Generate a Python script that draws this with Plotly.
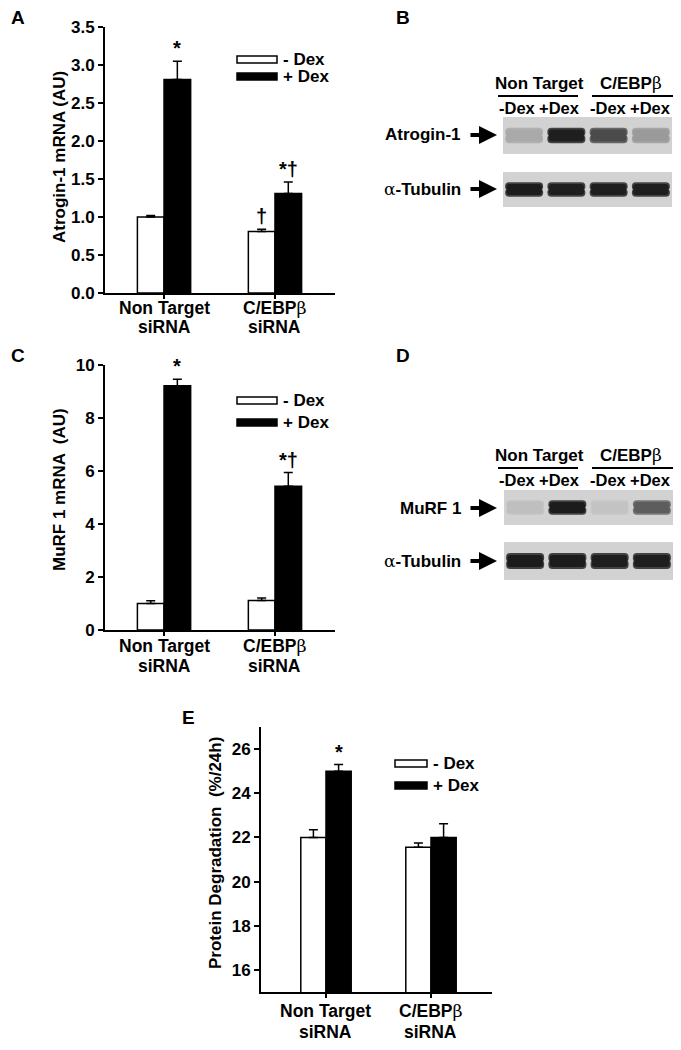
import plotly.graph_objects as go

OFF = 8               # page offset of the plot inside the browser window
W, H = 681 - OFF, 1050 - OFF
def px(x): return (x - OFF) / W
def py(y): return 1 - (y - OFF) / H

BETA = "<span style='font-family:DejaVu Serif;font-weight:normal'>β</span>"
ALPHA = "<span style='font-family:DejaVu Serif;font-weight:normal'>α</span>"

# ---------------- data ----------------
group_line1 = ["Non Target", "C/EBP" + BETA]
group_line2 = ["siRNA", "siRNA"]
series = ["- Dex", "+ Dex"]

atrogin_minus = [1.00, 0.81]
atrogin_minus_err = [0.02, 0.03]
atrogin_plus = [2.81, 1.31]
atrogin_plus_err = [0.24, 0.15]

murf_minus = [1.00, 1.11]
murf_minus_err = [0.10, 0.10]
murf_plus = [9.22, 5.42]
murf_plus_err = [0.24, 0.52]

deg_minus = [22.0, 21.55]
deg_minus_err = [0.35, 0.20]
deg_plus = [25.0, 22.0]
deg_plus_err = [0.30, 0.62]

# significance marks: (group, series index, text)
marks_A = [(0, 1, "*"), (1, 0, "†"), (1, 1, "*†")]
marks_C = [(0, 1, "*"), (1, 1, "*†")]
marks_E = [(0, 1, "*")]

# western blot band intensities (0 = none, 1 = saturated)
lanes = ["-Dex", "+Dex", "-Dex", "+Dex"]
blot_groups = ["Non Target", "C/EBP" + BETA]
atrogin_band = [0.22, 0.95, 0.72, 0.30]
tubulin_B_band = [0.97, 0.95, 0.95, 0.95]
murf_band = [0.10, 0.97, 0.08, 0.62]
tubulin_D_band = [0.97, 0.97, 0.95, 0.95]

FONT = "Liberation Sans, Arial, sans-serif"
BW = 0.24

fig = go.Figure()

def add_bars(xa, ya, minus, minus_err, plus, plus_err):
    fig.add_trace(go.Bar(x=[0, 1], y=minus, width=BW, offset=-BW, name=series[0],
                         marker=dict(color="white", line=dict(color="black", width=1.5)),
                         error_y=dict(type="data", array=minus_err, arrayminus=[0, 0], symmetric=False,
                                      color="black", thickness=1.5, width=4.5),
                         xaxis=xa, yaxis=ya, showlegend=False))
    fig.add_trace(go.Bar(x=[0, 1], y=plus, width=BW, offset=0, name=series[1],
                         marker=dict(color="black", line=dict(color="black", width=1.5)),
                         error_y=dict(type="data", array=plus_err, arrayminus=[0, 0], symmetric=False,
                                      color="black", thickness=1.5, width=4.5),
                         xaxis=xa, yaxis=ya, showlegend=False))

add_bars("x", "y", atrogin_minus, atrogin_minus_err, atrogin_plus, atrogin_plus_err)
add_bars("x2", "y2", murf_minus, murf_minus_err, murf_plus, murf_plus_err)
add_bars("x3", "y3", deg_minus, deg_minus_err, deg_plus, deg_plus_err)

def gray(v):
    g = int(round(210 - v * (210 - 22)))
    return f"rgb({g},{g},{g})"

def add_bands(xa, ya, vals):
    cols = [gray(v) for v in vals]
    halo = [gray(v * 0.8) for v in vals]
    for hgt, wid, cc, rad in [(0.21, 0.9, halo, 7), (0.16, 0.84, cols, 5)]:
        for sgn in (1, -1):
            fig.add_trace(go.Bar(x=[1, 2, 3, 4], y=[(hgt + 0.03) * sgn] * 4, base=[0.5 - 0.03 * sgn] * 4,
                                 width=wid,
                                 marker=dict(color=cc, line=dict(width=0), cornerradius=rad),
                                 xaxis=xa, yaxis=ya, showlegend=False, hoverinfo="skip"))

add_bands("x4", "y4", atrogin_band)
add_bands("x5", "y5", tubulin_B_band)
add_bands("x6", "y6", murf_band)
add_bands("x7", "y7", tubulin_D_band)

axis_common = dict(showline=True, linecolor="black", linewidth=1.8, ticks="outside", automargin=False,
                   ticklen=5, tickwidth=1.5, tickcolor="black", showgrid=False, zeroline=False,
                   tickfont=dict(family=FONT, size=17, color="black", weight="bold"))

def xcat(domain, rng):
    return dict(axis_common, domain=domain, range=rng, tickvals=[0, 1], showticklabels=False, ticklen=4)

fig.update_layout(
    width=W, height=H, margin=dict(l=0, r=0, t=0, b=0, pad=0, autoexpand=False),
    paper_bgcolor="white", plot_bgcolor="rgba(0,0,0,0)",
    barmode="overlay", showlegend=False,
    font=dict(family=FONT, size=17, color="black", weight="bold"),
    xaxis=xcat([px(105), px(335)], [-0.532, 1.541]),
    yaxis=dict(axis_common, domain=[py(293), py(27)], range=[0, 3.5], tickvals=[0, 0.5, 1, 1.5, 2, 2.5, 3, 3.5],
               tickformat=".1f"),
    xaxis2=xcat([px(105), px(335)], [-0.532, 1.541]),
    yaxis2=dict(axis_common, domain=[py(630), py(365)], range=[0, 10], tickvals=[0, 2, 4, 6, 8, 10]),
    xaxis3=xcat([px(261), px(492)], [-0.619, 1.581]),
    yaxis3=dict(axis_common, domain=[py(992), py(727)], range=[15, 27], tickvals=[16, 18, 20, 22, 24, 26]),
)
blot_ax = dict(showline=False, showgrid=False, zeroline=False, showticklabels=False, ticks="", automargin=False)
for i, (xd, yd) in zip(range(4, 8), [([503, 672], [117, 154]), ([503, 672], [172, 207]),
                                      ([504, 673], [490, 525]), ([504, 673], [542, 580])]):
    fig.layout[f"xaxis{i}"] = dict(blot_ax, domain=[px(xd[0]), px(xd[1])], range=[0.5, 4.5], anchor=f"y{i}")
    fig.layout[f"yaxis{i}"] = dict(blot_ax, domain=[py(yd[1]), py(yd[0])], range=[0, 1], anchor=f"x{i}")
for i in (2, 3):
    fig.layout[f"xaxis{i}"].anchor = f"y{i}"
    fig.layout[f"yaxis{i}"].anchor = f"x{i}"

shapes = []
ann = []

def note(text, x, y, size=17, xanchor="center", **kw):
    d = dict(text=text, x=x, y=y, xref="paper", yref="paper", showarrow=False,
             xanchor=xanchor, yanchor="middle", font=dict(size=size))
    d.update(kw)
    ann.append(d)

# category labels under the bar charts
for xa, y1, y2 in [("x", 308, 327), ("x2", 646, 666), ("x3", 1011, 1032)]:
    for g in range(2):
        note(group_line1[g], g, py(y1), size=17.5, xref=xa)
        note(group_line2[g], g, py(y2), size=17.5, xref=xa)

# blot backgrounds
for i in range(4, 8):
    shapes.append(dict(type="rect", xref=f"x{i} domain", yref=f"y{i} domain", x0=0, x1=1, y0=0, y1=1,
                       fillcolor="#d2d2d2", line=dict(width=0), layer="below"))

# y-axis titles
for txt, x, y in [("Atrogin-1 mRNA (AU)", 60, 157), ("MuRF 1 mRNA  (AU)", 60, 490),
                  ("Protein Degradation  (%/24h)", 215, 853)]:
    note(txt, px(x), py(y), textangle=-90)

# panel letters
for txt, x, y in [("A", 18, 17), ("B", 403, 17), ("C", 18, 355), ("D", 403, 355), ("E", 188, 717)]:
    note(txt, px(x), py(y), size=19)

# legends
for ytop_w, ytop_b, x0, x1 in [(56, 73, 237, 277), (397, 419, 237, 277), (760, 782, 395, 427)]:
    for j, (yt, fill) in enumerate([(ytop_w, "white"), (ytop_b, "black")]):
        shapes.append(dict(type="rect", xref="paper", yref="paper", x0=px(x0), x1=px(x1),
                           y0=py(yt + 7), y1=py(yt), fillcolor=fill, line=dict(color="black", width=1.5)))
        note(series[j], px(x1 + 4), py(yt + 3.5), xanchor="left")

# significance marks
def add_marks(marks, xa, ya, minus, minus_err, plus, plus_err):
    for g, s, txt in marks:
        top = (minus[g] + minus_err[g]) if s == 0 else (plus[g] + plus_err[g])
        xc = g - BW / 2 if s == 0 else g + BW / 2
        ann.append(dict(text=txt, x=xc, y=top, xref=xa, yref=ya, xanchor="center", yanchor="bottom",
                        showarrow=False, yshift=0, font=dict(size=20)))

add_marks(marks_A, "x", "y", atrogin_minus, atrogin_minus_err, atrogin_plus, atrogin_plus_err)
add_marks(marks_C, "x2", "y2", murf_minus, murf_minus_err, murf_plus, murf_plus_err)
add_marks(marks_E, "x3", "y3", deg_minus, deg_minus_err, deg_plus, deg_plus_err)

# blot headers
lane_x = [517, 559, 608, 650]
for dy, strips in [(0, [("Atrogin-1", 135), (ALPHA + "-Tubulin", 189)]),
                   (372, [("MuRF 1", 508), (ALPHA + "-Tubulin", 561)])]:
    for k, name in enumerate(blot_groups):
        note(name, px([539, 631][k]), py(83 + dy))
        x0, x1 = [(498, 578), (592, 675)][k]
        shapes.append(dict(type="line", xref="paper", yref="paper", x0=px(x0), x1=px(x1),
                           y0=py(96 + dy), y1=py(96 + dy), line=dict(color="black", width=1.8)))
    for k, ln in enumerate(lanes):
        note(ln, px(lane_x[k]), py(108 + dy), size=16.5)
    for name, yc in strips:
        note(name, px(463), py(yc), xanchor="right")
        ann.append(dict(text="", x=px(497), y=py(yc), ax=-28, ay=0, xref="paper", yref="paper",
                        axref="pixel", ayref="pixel", showarrow=True, arrowhead=2, arrowsize=0.9,
                        arrowwidth=4, arrowcolor="black"))

fig.update_layout(shapes=shapes, annotations=ann)
fig.write_html("out.html")
